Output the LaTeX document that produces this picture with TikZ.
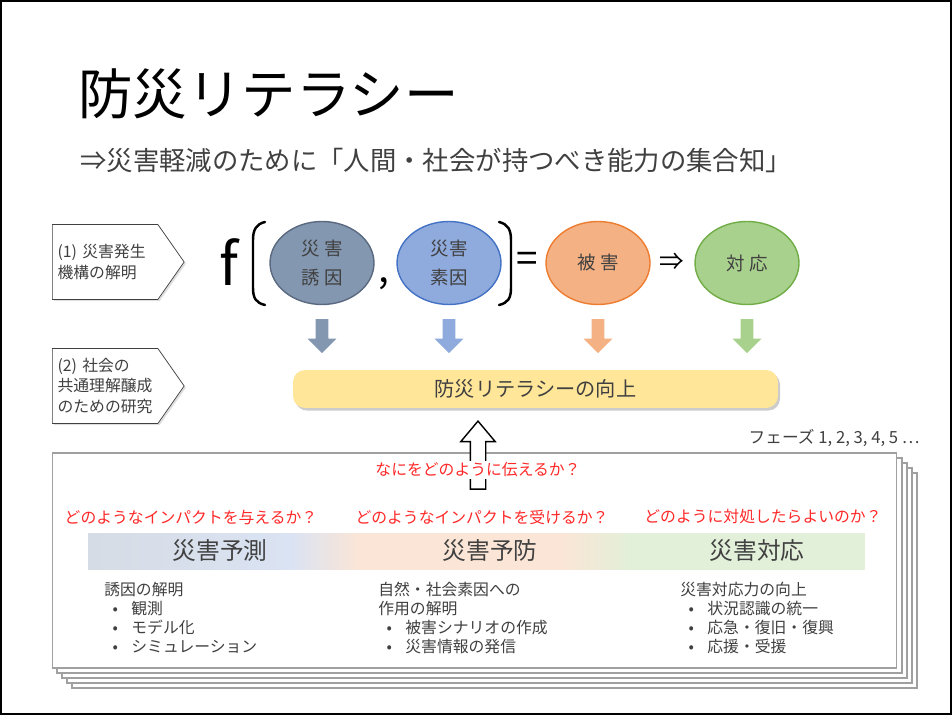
\documentclass[tikz,border=0pt]{standalone}
\usepackage{fontspec}
\setmainfont{Noto Sans CJK JP}
\usetikzlibrary{arrows.meta,positioning,calc,shapes.geometric,shapes.arrows,shapes.symbols,shadows}
\definecolor{BlInk}{RGB}{64,64,64}
\definecolor{BlSlate}{RGB}{132,151,176}
\definecolor{BlSlateLine}{RGB}{90,105,128}
\definecolor{BlBlue}{RGB}{143,170,220}
\definecolor{BlBlueLine}{RGB}{68,114,196}
\definecolor{BlOrange}{RGB}{244,177,131}
\definecolor{BlOrangeLine}{RGB}{237,125,49}
\definecolor{BlGreen}{RGB}{169,209,142}
\definecolor{BlGreenLine}{RGB}{112,173,71}
\definecolor{BlYellow}{RGB}{255,230,153}
\definecolor{BlPage}{RGB}{160,160,160}
\definecolor{BlAsk}{RGB}{255,40,40}
\definecolor{BlBandA}{RGB}{214,220,229}
\definecolor{BlBandB}{RGB}{218,227,243}
\definecolor{BlBandC}{RGB}{251,229,214}
\definecolor{BlBandD}{RGB}{226,240,217}
\pgfdeclarehorizontalshading{bandfade}{100bp}{color(0bp)=(BlBandA); color(25bp)=(BlBandA);
  color(38bp)=(BlBandB); color(42.5bp)=(BlBandC); color(55.4bp)=(BlBandC);
  color(60bp)=(BlBandD); color(75bp)=(BlBandD); color(100bp)=(BlBandD)}
\newcommand{\blitem}[1]{\makebox[12.4pt][c]{•}\hspace{3pt}#1}
\tikzset{
  bl/title/.style={font=\fontsize{31}{31}\selectfont, inner sep=0, text=black},
  bl/subtitle/.style={font=\fontsize{15}{15}\selectfont, inner sep=0, text=BlInk},
  bl/tag/.style={
    signal,
    signal to=east,
    signal pointer angle=110,
    draw=BlInk,
    fill=white,
    align=left,
    text width=1.9cm,
    minimum height=1.5cm,
    inner xsep=3pt,
    text=BlInk,
    font=\fontsize{9}{11.5}\selectfont,
    drop shadow={shadow xshift=1pt, shadow yshift=-1pt, fill=black!25}
  },
  bl/bubble/.style={
    ellipse,
    thick,
    minimum width=2.08cm,
    minimum height=1.66cm,
    align=center,
    inner sep=0,
    text=BlInk,
    font=\fontsize{10.5}{16}\selectfont
  },
  bl/down/.style={single arrow, shape border rotate=270, minimum height=0.68cm,
    inner sep=0.12cm, single arrow head extend=0.16cm,
    single arrow tip angle=90, draw=none},
  bl/hollow/.style={single arrow, shape border rotate=90, draw=black, thick, fill=white,
    minimum height=1.36cm, inner sep=0.14cm, single arrow head extend=0.19cm,
    single arrow tip angle=80},
  bl/goal/.style={
    rounded corners=0.24cm,
    fill=BlYellow,
    minimum width=9.7cm,
    minimum height=0.76cm,
    text=BlInk,
    font=\fontsize{11.5}{11.5}\selectfont,
    drop shadow={shadow xshift=1.2pt, shadow yshift=-1.5pt, fill=black!40}
  },
  bl/page/.style={draw=BlPage, semithick, fill=white},
  bl/ask/.style={text=BlAsk, font=\fontsize{9}{9}\selectfont, inner sep=1pt},
  bl/band/.style={shading=bandfade, minimum width=15.54cm, minimum height=0.74cm, inner sep=0},
  bl/stage/.style={text=BlInk, font=\fontsize{13.5}{13.5}\selectfont},
  bl/phase/.style={font=\fontsize{9.5}{9.5}\selectfont, text=BlInk, inner sep=0},
  bl/list/.style={anchor=north west, align=left, inner sep=0, text=BlInk, font=\fontsize{9}{10.8}\selectfont},
  bl/bracket/.style={line width=1.4pt, line cap=round},
  bl/sym/.style={inner sep=0, text=black}
}
\begin{document}
\begin{tikzpicture}[x=0.02cm,y=-0.02cm]
  \useasboundingbox (0,0) rectangle (952,715);
  \draw[line width=1.2pt] (1,1) rectangle (951,714);

  % heading
  \node[bl/title,anchor=west] (title) at (78,94) {防災リテラシー};
  \node[bl/subtitle,anchor=west] (sub) at (80,160) {⇒災害軽減のために「人間・社会が持つべき能力の集合知」};

  % research tags
  \node[bl/tag,anchor=west] (tag1) at (52,262) {(1) 災害発生\\機構の解明};
  \node[bl/tag,anchor=west] (tag2) at (52,386) {(2) 社会の\\共通理解醸成\\のための研究};

  % f[ cause , vulnerability ] = damage => response
  \node[bl/sym,font=\fontsize{33}{33}\selectfont] (f) at (229,262) {f};
  \draw[bl/bracket] (265,222) .. controls (256,224) and (253,230) .. (253,240) -- (253,288)
    .. controls (253,298) and (256,303) .. (265,305);
  \draw[bl/bracket] (499,222) .. controls (508,224) and (511,230) .. (511,240) -- (511,288)
    .. controls (511,298) and (508,303) .. (499,305);
  \foreach \nm/\x/\fc/\dc/\txt in {e1/322/BlSlate/BlSlateLine/{災\ 害\\誘\ 因},
    e2/449/BlBlue/BlBlueLine/{災害\\素因},e3/598/BlOrange/BlOrangeLine/{被\ 害},
    e4/747/BlGreen/BlGreenLine/{対\ 応}}
  {\node[bl/bubble,fill=\fc,draw=\dc] (\nm) at (\x,263) {\txt};
   \node[bl/down,fill=\fc,anchor=tail] (d\nm) at ($(\nm.south)+(0,13.5)$) {};}
  \node[bl/sym,font=\fontsize{22}{22}\selectfont] (comma) at (384,284) {,};
  \node[bl/sym,font=\fontsize{22}{22}\selectfont] (eq) at (527,262) {=};
  \node[bl/sym,font=\fontsize{14}{14}\selectfont] (then) at (672,262) {⇒};

  \node[bl/goal] (goal) at (535.5,389) {防災リテラシーの向上};

  % phases
  \node[bl/phase,anchor=east] (phase) at (920,438) {フェーズ 1, 2, 3, 4, 5 …};
  \foreach \k in {4,3,2,1}
    \draw[bl/page] ({52+5*\k},{453+5*\k}) rectangle ({897+5*\k},{668+5*\k});
  \node[bl/page,minimum width=16.9cm,minimum height=4.3cm] (page) at (474.5,560.5) {};

  \node[bl/hollow,anchor=tip] (up) at (478,420) {};
  \node[bl/ask,fill=white] (how) at (478,470) {なにをどのように伝えるか？};

  \node[bl/ask] (q1) at (191,517) {どのようなインパクトを与えるか？};
  \node[bl/ask] (q2) at (482,517) {どのようなインパクトを受けるか？};
  \node[bl/ask] (q3) at (763,517) {どのように対処したらよいのか？};

  \node[bl/band] (band) at (476.5,551.5) {};
  \node[bl/stage] (p1) at (220,551) {災害予測};
  \node[bl/stage] (p2) at (490,551) {災害予防};
  \node[bl/stage] (p3) at (757,551) {災害対応};

  \node[bl/list] (l1) at (104,582) {誘因の解明\\\blitem{観測}\\\blitem{モデル化}\\\blitem{シミュレーション}};
  \node[bl/list] (l2) at (378,582) {自然・社会素因への\\作用の解明\\\blitem{被害シナリオの作成}\\\blitem{災害情報の発信}};
  \node[bl/list] (l3) at (680,582) {災害対応力の向上\\\blitem{状況認識の統一}\\\blitem{応急・復旧・復興}\\\blitem{応援・受援}};
\end{tikzpicture}
\end{document}
